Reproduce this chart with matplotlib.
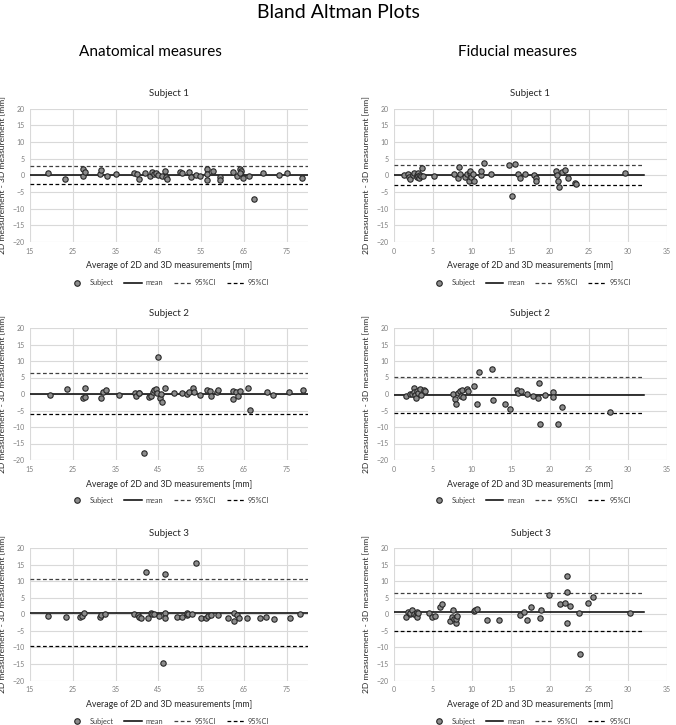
import matplotlib
matplotlib.use("Agg")
import matplotlib.pyplot as plt
from matplotlib.lines import Line2D

plt.rcParams['font.family'] = ['Lato', 'DejaVu Sans']

# Anatomical measures, subject 1
ana1_x = [19.1, 23.3, 27.3, 27.4, 27.9, 31.3, 31.6, 33.1, 35.1, 39.4, 40.0, 40.6, 41.9, 43.1,
          43.5, 43.9, 44.4, 44.9, 45.8, 46.6, 46.7, 47.1, 50.0, 50.5, 52.1, 52.7, 53.7, 54.8,
          56.4, 56.4, 56.5, 57.7, 59.5, 59.5, 62.5, 63.3, 64.1, 64.3, 64.2, 64.8, 66.3, 67.3,
          69.4, 73.3, 75.1, 78.5]
ana1_y = [0.6, -1.0, 2.0, -0.3, 1.0, 0.4, 1.6, -0.3, 0.3, 0.7, 0.5, -1.2, 0.8, -0.1,
          0.9, 0.4, 0.8, 0.2, -0.1, 1.3, -0.5, -1.0, 0.9, 0.7, 1.0, -0.4, 0.2, -0.3,
          1.8, -1.5, 0.3, 1.2, -0.4, -1.5, 0.9, -0.2, 1.9, 1.4, 0.6, -0.8, -0.1, -7.0,
          0.8, 0.0, 0.6, -0.8]
ana1_stats = [0.1, 2.7, -2.5]  # mean, upper, lower

# Anatomical measures, subject 2
ana2_x = [19.7, 23.6, 27.5, 27.8, 27.8, 31.6, 32.1, 32.8, 35.8, 39.6, 39.7, 40.5, 40.6, 41.7,
          42.8, 43.2, 43.7, 44.1, 44.4, 44.6, 45.0, 45.3, 45.6, 45.8, 46.5, 48.7, 50.5, 51.8,
          52.1, 53.0, 53.3, 54.8, 56.4, 57.0, 57.4, 58.8, 58.9, 62.4, 62.5, 63.2, 63.6, 64.0,
          65.9, 66.5, 70.4, 71.9, 75.5, 78.8]
ana2_y = [-0.2, 1.4, -1.1, 1.9, -0.8, -1.1, 0.7, 1.2, -0.2, 0.3, -0.6, 0.2, 0.4, -17.8,
          -1.0, -0.6, 0.6, 1.2, 1.6, 0.3, 11.3, -1.3, 0.1, -2.3, 1.7, 0.2, 0.3, 0.1,
          0.6, 1.8, 0.5, -0.4, 1.2, 0.9, -0.7, 0.5, 1.2, -1.6, 1.0, 0.6, -0.6, 0.9,
          1.7, -4.7, 0.6, -0.3, 0.7, 1.1]
ana2_stats = [-0.1, 6.3, -6.2]

# Anatomical measures, subject 3
ana3_x = [19.3, 23.5, 26.8, 27.2, 27.6, 31.3, 31.7, 32.6, 39.4, 40.2, 40.4, 40.9, 42.2, 42.5,
          43.2, 43.6, 44.0, 45.1, 46.0, 46.5, 46.5, 46.5, 49.4, 50.5, 51.6, 51.8, 51.9, 52.8,
          53.9, 54.9, 56.1, 56.6, 57.4, 59.0, 61.3, 62.8, 62.8, 63.5, 63.8, 65.8, 68.8, 70.2,
          72.0, 75.8, 78.2]
ana3_y = [-0.4, -0.9, -0.9, -0.4, 0.3, -0.7, -0.3, 0.1, 0.1, -0.1, -0.7, -1.1, 12.8, -1.1,
          0.4, 0.2, 0.1, -0.5, -14.6, 12.1, 0.4, -1.1, -0.7, -0.7, -0.2, 0.5, 0.2, 0.2,
          15.5, -1.0, -1.0, -0.6, -0.1, -0.3, -1.0, 0.3, -2.1, -0.3, -1.0, -1.1, -1.1, -0.8,
          -1.3, -1.1, 0.1]
ana3_stats = [0.5, 10.6, -9.6]

# Fiducial measures, subject 1
fid1_x = [1.3, 1.8, 1.9, 2.0, 2.4, 2.6, 2.9, 2.9, 3.1, 3.1, 3.2, 3.3, 3.5, 3.6, 3.7,
          5.1, 7.7, 8.2, 8.3, 8.5, 9.1, 9.3, 9.6, 9.8, 9.8, 9.9, 10.1, 10.3, 11.1, 11.1,
          11.6, 12.4, 14.8, 15.1, 15.5, 15.9, 16.1, 16.8, 17.9, 18.2, 18.2, 20.8, 20.9,
          21.0, 21.1, 21.6, 21.9, 22.3, 23.2, 23.3, 29.6]
fid1_y = [0.0, 0.3, -0.6, -1.1, 0.0, 0.6, 0.2, -0.4, 0.7, -0.2, -0.9, 0.2, -0.2, 2.3, -0.1,
          -0.1, 0.4, -0.7, 2.6, 0.3, -0.5, 0.5, -1.6, 0.6, 1.4, -0.6, 0.4, -1.6, 0.1, 1.4,
          3.6, 0.5, 3.1, -6.3, 3.5, 0.4, -0.8, 0.4, 0.2, -0.8, -1.6, 1.4, 0.0,
          -1.8, -3.5, 0.9, 1.7, -0.9, -2.3, -2.6, 0.6]
fid1_stats = [0.0, 3.1, -3.0]

# Fiducial measures, subject 2
fid2_x = [1.6, 2.0, 2.3, 2.5, 2.6, 2.7, 2.8, 2.9, 3.1, 3.3, 3.4, 3.9, 4.0,
          7.5, 7.8, 8.0, 8.2, 8.4, 8.6, 8.75, 8.8, 9.35, 9.55, 10.2, 10.7, 10.85, 12.55,
          12.7, 14.25, 14.9, 15.8, 15.9, 16.3, 17.1, 17.8, 18.5, 18.65, 18.7, 19.3, 20.4,
          20.4, 21.0, 21.6, 27.7]
fid2_y = [-0.5, -0.1, 0.1, 1.9, 0.5, -0.3, -1.2, 0.9, 0.3, 1.5, -0.3, 1.3, 1.0,
          0.0, -1.5, -3.0, 0.2, 0.8, -0.6, 1.2, -0.8, 1.4, 1.0, 2.4, -3.1, 6.8, 7.5,
          -1.7, -3.1, -4.6, 1.1, 0.2, 1.0, 0.1, -0.7, -1.3, 3.3, -9.2, -0.4, 0.7,
          -0.9, -9.1, -3.9, -5.6]
fid2_stats = [-0.2, 5.1, -5.7]

# Fiducial measures, subject 3
fid3_x = [1.6, 1.8, 2.0, 2.1, 2.3, 2.5, 2.8, 2.9, 3.0, 3.1, 4.5, 4.9, 5.3, 5.85, 6.1,
          7.2, 7.4, 7.5, 7.7, 7.9, 8.0, 8.1, 10.2, 10.4, 10.7, 11.9, 13.4, 16.1, 16.7,
          17.1, 17.5, 18.7, 18.9, 19.9, 21.3, 21.9, 22.2, 22.2, 22.2, 22.6, 23.7, 23.8,
          24.9, 25.5, 30.3]
fid3_y = [-0.7, 0.8, 0.0, 0.4, 1.3, 0.2, -0.1, 0.8, -0.8, 0.3, 0.3, -0.8, -0.5, 2.3, 3.0,
          -1.9, -0.8, 1.2, -1.4, -2.6, -1.3, -0.5, 1.0, 1.4, 1.6, -1.6, -1.8, -0.1, 0.7,
          -1.7, 2.3, -1.2, 1.3, 5.7, 3.1, 3.4, 11.4, 6.6, -2.5, 2.4, 0.3, -11.9,
          3.5, 5.2, 0.3]
fid3_stats = [0.6, 6.4, -5.2]

subjects = ["Subject 1", "Subject 2", "Subject 3"]
ana_panels = [(ana1_x, ana1_y, ana1_stats), (ana2_x, ana2_y, ana2_stats), (ana3_x, ana3_y, ana3_stats)]
fid_panels = [(fid1_x, fid1_y, fid1_stats), (fid2_x, fid2_y, fid2_stats), (fid3_x, fid3_y, fid3_stats)]

W, H = 676, 725
fig = plt.figure(figsize=(W / 100, H / 100), dpi=100)

ylab = "2D measurement - 3D measurement [mm]"
xlab = "Average of 2D and 3D measurements [mm]"
grid_col = "#d9d9d9"
tick_col = "#7f7f7f"


def px_axes(x0, y0, x1, y1):
    return fig.add_axes([x0 / W, 1 - y1 / H, (x1 - x0) / W, (y1 - y0) / H])


def draw_panel(ax, x, y, stats, title, xlim, xticks, line_end):
    ax.set_xlim(*xlim)
    ax.set_ylim(-20, 20)
    ax.set_xticks(xticks)
    ax.set_yticks(range(-20, 21, 5))
    ax.grid(True, color=grid_col, lw=0.8)
    ax.set_axisbelow(True)
    for s in ax.spines.values():
        s.set_visible(False)
    ax.tick_params(length=0, labelsize=5, colors=tick_col, pad=4)

    mean, up, lo = stats
    ax.plot([xlim[0], line_end], [mean, mean], color="black", lw=1.1, zorder=2)
    ax.plot([xlim[0], line_end], [up, up], color="#404040", lw=0.9, ls=(0, (3, 2)), zorder=2)
    ax.plot([xlim[0], line_end], [lo, lo], color="black", lw=0.9, ls=(0, (3, 2)), zorder=2)
    ax.scatter(x, y, s=15, facecolor="#8c8c8c", edgecolor="#262626", linewidth=0.8, zorder=3)

    ax.set_title(title, fontsize=7, pad=9, color="#262626")
    ax.set_xlabel(xlab, fontsize=6.3, labelpad=5, color="#262626")
    ax.set_ylabel(ylab, fontsize=6.1, labelpad=4, color="#262626")

    handles = [
        Line2D([], [], ls="none", marker="o", markersize=4, markerfacecolor="#8c8c8c",
               markeredgecolor="#262626", markeredgewidth=0.8),
        Line2D([], [], color="black", lw=1.1),
        Line2D([], [], color="#404040", lw=0.9, ls=(0, (3, 2))),
        Line2D([], [], color="black", lw=0.9, ls=(0, (3, 2))),
    ]
    ax.legend(handles, ["Subject", "mean", "95%CI", "95%CI"], loc="upper center",
              bbox_to_anchor=(0.5, -0.23), ncol=4, frameon=False, fontsize=5.3,
              handlelength=2.4, columnspacing=1.4, handletextpad=0.5,
              labelcolor="#404040")


rows = [(108.5, 242), (328, 460), (548, 680.5)]
for i, (top, bot) in enumerate(rows):
    ax = px_axes(30, top, 308, bot)
    x, y, st = ana_panels[i]
    draw_panel(ax, x, y, st, subjects[i], (15, 80), range(15, 80, 10), 80)

    ax = px_axes(394, top, 667, bot)
    x, y, st = fid_panels[i]
    draw_panel(ax, x, y, st, subjects[i], (0, 35), range(0, 36, 5), 32)

fig.text(338 / W, 1 - 13 / H, "Bland Altman Plots", fontsize=14, ha="center", va="center")
fig.text(150 / W, 1 - 52 / H, "Anatomical measures", fontsize=11, ha="center", va="center")
fig.text(518 / W, 1 - 52 / H, "Fiducial measures", fontsize=11, ha="center", va="center")

fig.savefig("out.png", dpi=100)
